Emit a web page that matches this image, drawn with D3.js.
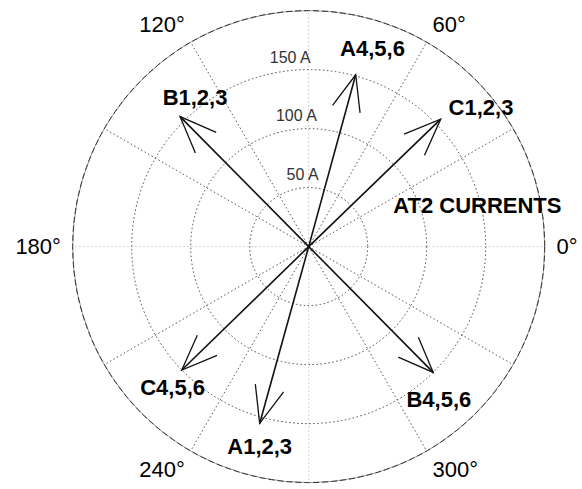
<!DOCTYPE html>
<html>
<head>
<meta charset="utf-8">
<script src="https://cdn.jsdelivr.net/npm/d3@7"></script>
<style>
  html, body { margin: 0; padding: 0; background: #fff; }
  svg { display: block; font-family: "Liberation Sans", Arial, sans-serif; }
</style>
</head>
<body>
<svg id="chart" width="582" height="489"></svg>
<script>
// ---- data ----
const phasorNames = ["A1,2,3", "B1,2,3", "C1,2,3", "A4,5,6", "B4,5,6", "C4,5,6"];
const phasorMagnitudes = [155.5, 155, 155.5, 151, 150, 150];   // A
const phasorAngles = [254.5, 134.7, 44, 74.7, 314.7, 224.2];   // degrees
const ringValues = [50, 100, 150];
const ringLabels = ["50 A", "100 A", "150 A"];
const maxRadiusValue = 200;
const spokeAngles = d3.range(0, 360, 30);
const angleTickValues = [0, 60, 120, 180, 240, 300];
const angleTickLabels = ["0°", "60°", "120°", "180°", "240°", "300°"];
const chartTitle = "AT2 CURRENTS";

// ---- layout ----
const width = 582, height = 489;
const cx = 308.7, cy = 246.6;
const R = 236;
const labelNudge = [[0, 22.7], [15, -18.7], [40.3, -11.8], [16.8, -25.8], [5.7, 27.3], [-9.2, 18]];

const svg = d3.select("#chart");
svg.append("rect").attr("width", width).attr("height", height).attr("fill", "#fff");
const g = svg.append("g").attr("transform", `translate(${cx},${cy})`);

const r = d3.scaleLinear().domain([0, maxRadiusValue]).range([0, R]);
const toRad = d => d * Math.PI / 180;
const px = (v, a) => r(v) * Math.cos(toRad(a));
const py = (v, a) => -r(v) * Math.sin(toRad(a));

// spokes
g.selectAll("line.spoke").data(spokeAngles).join("line")
  .attr("class", "spoke")
  .attr("x1", 0).attr("y1", 0)
  .attr("x2", d => px(maxRadiusValue, d)).attr("y2", d => py(maxRadiusValue, d))
  .attr("stroke", d => d % 90 === 0 ? "#c4c4c4" : "#555")
  .attr("stroke-width", 1)
  .attr("stroke-dasharray", "1.5,2.5");

// rings
g.selectAll("circle.ring").data(ringValues).join("circle")
  .attr("class", "ring")
  .attr("r", d => r(d))
  .attr("fill", "none")
  .attr("stroke", "#444")
  .attr("stroke-width", 1)
  .attr("stroke-dasharray", "1.5,2.5");

// outer circle
g.append("circle").attr("r", r(maxRadiusValue)).attr("fill", "none")
  .attr("stroke", "#999").attr("stroke-width", 1);
g.append("circle").attr("r", r(maxRadiusValue)).attr("fill", "none")
  .attr("stroke", "#333").attr("stroke-width", 1).attr("stroke-dasharray", "6,3");

// ring labels
g.selectAll("text.ringlabel").data(ringValues).join("text")
  .attr("class", "ringlabel")
  .attr("x", d => px(d, 96))
  .attr("y", d => py(d, 96) - 8)
  .attr("text-anchor", "middle")
  .attr("font-size", 16)
  .attr("fill", "#333")
  .text((d, i) => ringLabels[i]);

// angle labels
const edgeR = 1.05 * R;
const capH = 0.716 * 22;
g.selectAll("text.anglelabel").data(angleTickValues).join("text")
  .attr("class", "anglelabel")
  .each(function (d, i) {
    const c = Math.cos(toRad(d)), s = Math.sin(toRad(d));
    const x = edgeR * c, y = -edgeR * s;
    const anchor = c > 0.1 ? "start" : (c < -0.1 ? "end" : "middle");
    let yy;
    if (s > 0.1) yy = y;                 // above: text sits on point
    else if (s < -0.1) yy = y + capH;    // below: text hangs from point
    else yy = y + capH / 2;
    d3.select(this).attr("x", x).attr("y", yy).attr("text-anchor", anchor);
  })
  .attr("font-size", 22)
  .attr("fill", "#000")
  .text((d, i) => angleTickLabels[i]);

// phasor arrows (compass style)
const phasors = phasorNames.map((n, i) => ({ name: n, mag: phasorMagnitudes[i], ang: phasorAngles[i], nudge: labelNudge[i] }));
const arrows = g.selectAll("g.phasor").data(phasors).join("g").attr("class", "phasor");
arrows.append("line")
  .attr("x1", 0).attr("y1", 0)
  .attr("x2", d => px(d.mag, d.ang)).attr("y2", d => py(d.mag, d.ang))
  .attr("stroke", "#111").attr("stroke-width", 1.6);
arrows.append("path")
  .attr("d", d => {
    const tx = px(d.mag, d.ang), ty = py(d.mag, d.ang);
    const ux = tx, uy = ty; // full vector
    const bx = tx - 0.2 * ux, by = ty - 0.2 * uy;
    const nx = -uy * 0.08, ny = ux * 0.08;
    return `M${bx + nx},${by + ny}L${tx},${ty}L${bx - nx},${by - ny}`;
  })
  .attr("fill", "none").attr("stroke", "#111").attr("stroke-width", 1.3);
arrows.append("text")
  .attr("x", d => px(d.mag, d.ang) + d.nudge[0])
  .attr("y", d => py(d.mag, d.ang) + d.nudge[1] + 7.5)
  .attr("text-anchor", "middle")
  .attr("font-size", 22).attr("font-weight", "bold").attr("fill", "#000")
  .text(d => d.name);

// title annotation
g.append("text")
  .attr("x", 84.5).attr("y", -33.5)
  .attr("font-size", 22).attr("font-weight", "bold").attr("fill", "#000")
  .text(chartTitle);
</script>
</body>
</html>
